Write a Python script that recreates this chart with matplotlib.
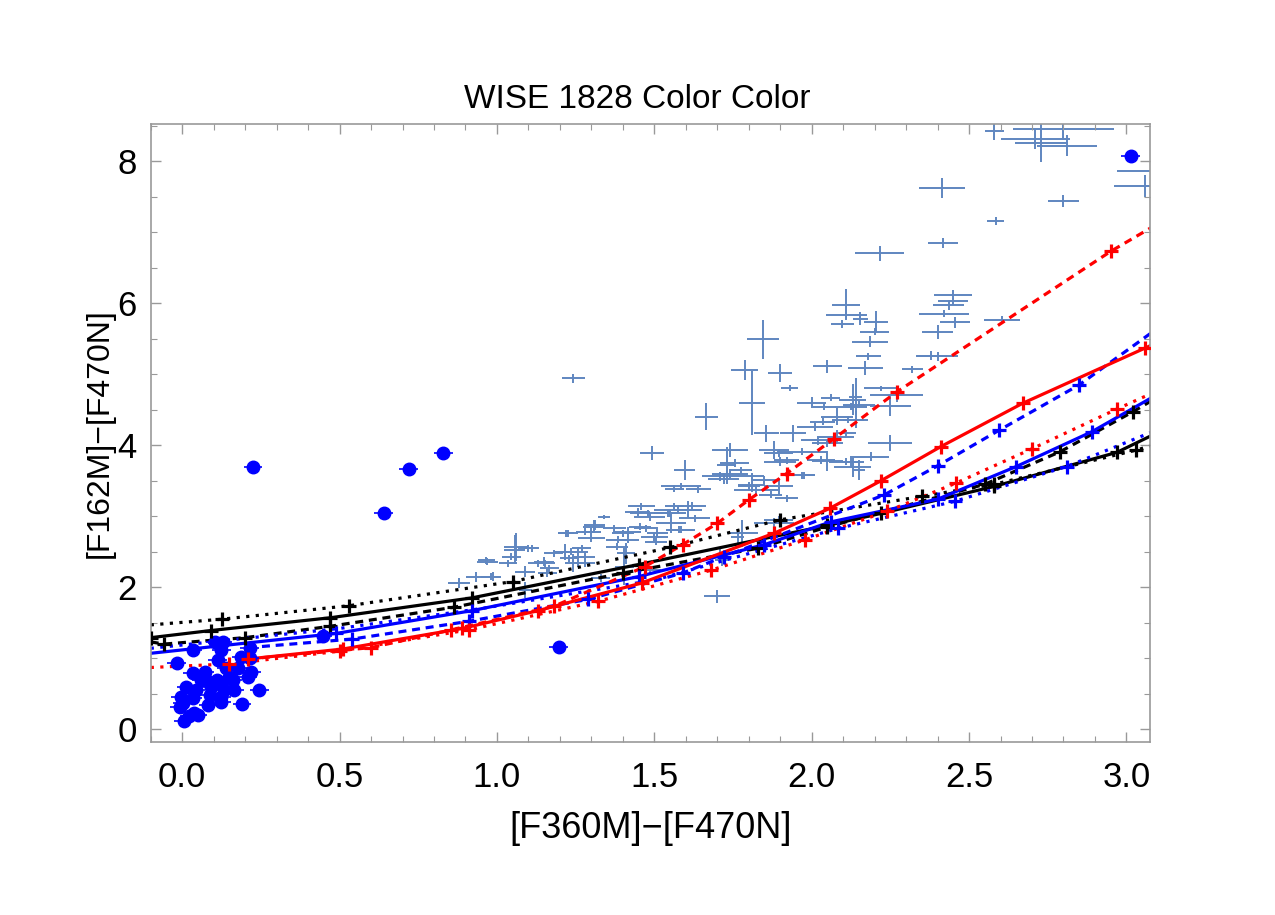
import numpy as np
import matplotlib.pyplot as plt
from matplotlib.ticker import MultipleLocator

plt.rcParams['font.family'] = ['Liberation Sans', 'DejaVu Sans']

# ---- observed objects: light blue crosses (x, y, xerr, yerr) ----
obs = np.array([
    (2.58, 8.42, 0.03, 0.12), (2.80, 8.45, 0.16, 0.15), (2.71, 8.31, 0.11, 0.14),
    (2.81, 8.22, 0.095, 0.15), (2.73, 8.26, 0.085, 0.27), (3.08, 7.86, 0.11, 0.30),
    (3.06, 7.65, 0.10, 0.16), (2.80, 7.44, 0.05, 0.08), (2.585, 7.16, 0.027, 0.06),
    (2.415, 7.62, 0.073, 0.145), (2.417, 6.85, 0.047, 0.075), (2.216, 6.70, 0.077, 0.11),
    (2.11, 5.98, 0.045, 0.22), (2.11, 5.84, 0.065, 0.06), (2.155, 5.78, 0.023, 0.09),
    (2.097, 5.71, 0.036, 0.06), (2.203, 5.74, 0.038, 0.15), (2.45, 6.12, 0.06, 0.06),
    (2.45, 6.03, 0.048, 0.05), (2.435, 5.97, 0.048, 0.07), (2.42, 5.85, 0.08, 0.05),
    (2.455, 5.73, 0.048, 0.08), (2.40, 5.60, 0.05, 0.10), (2.605, 5.77, 0.057, 0.05),
    (2.20, 5.60, 0.045, 0.05), (2.185, 5.46, 0.057, 0.08), (1.845, 5.49, 0.05, 0.275),
    (1.787, 5.06, 0.042, 0.136), (1.90, 5.02, 0.039, 0.125), (1.93, 4.81, 0.028, 0.04),
    (2.05, 5.11, 0.046, 0.09), (2.17, 5.09, 0.055, 0.10), (2.32, 5.07, 0.034, 0.05),
    (2.38, 5.26, 0.05, 0.06), (1.243, 4.94, 0.036, 0.07), (1.665, 4.40, 0.037, 0.19),
    (1.81, 4.59, 0.042, 0.45), (1.494, 3.89, 0.038, 0.105), (2.25, 4.03, 0.07, 0.11),
    (2.25, 4.55, 0.066, 0.14), (2.27, 4.71, 0.085, 0.10), (2.22, 4.80, 0.053, 0.04),
    (2.13, 4.64, 0.042, 0.22), (2.125, 4.54, 0.05, 0.05), (2.00, 4.60, 0.046, 0.08),
    (2.06, 4.67, 0.03, 0.05), (2.04, 4.54, 0.037, 0.05), (2.08, 4.40, 0.05, 0.12),
    (2.14, 4.36, 0.04, 0.12), (2.035, 4.33, 0.04, 0.05), (2.01, 4.26, 0.058, 0.06),
    (2.08, 4.12, 0.056, 0.10), (2.11, 4.17, 0.03, 0.05), (1.94, 4.17, 0.042, 0.12),
    (1.856, 4.17, 0.04, 0.12), (1.88, 3.93, 0.048, 0.13), (1.97, 3.91, 0.08, 0.05),
    (2.02, 4.07, 0.055, 0.06), (1.90, 3.77, 0.05, 0.06), (2.05, 3.78, 0.05, 0.14),
    (2.19, 3.84, 0.056, 0.06), (2.13, 3.70, 0.058, 0.15), (1.596, 3.65, 0.032, 0.14),
    (1.564, 3.39, 0.03, 0.05), (1.64, 3.38, 0.04, 0.05), (1.71, 3.56, 0.058, 0.06),
    (1.73, 3.72, 0.03, 0.26), (1.755, 3.75, 0.045, 0.05), (1.776, 3.65, 0.035, 0.05),
    (1.824, 3.37, 0.07, 0.05), (1.74, 3.93, 0.057, 0.10), (1.74, 3.60, 0.058, 0.06),
    (1.72, 3.53, 0.05, 0.08), (1.895, 3.89, 0.045, 0.06), (1.92, 3.79, 0.04, 0.05),
    (2.05, 4.03, 0.05, 0.05), (2.11, 3.77, 0.056, 0.05), (2.15, 3.65, 0.02, 0.14),
    (2.03, 3.79, 0.045, 0.06), (1.977, 3.58, 0.035, 0.05), (1.895, 3.42, 0.045, 0.12),
    (1.92, 3.25, 0.035, 0.05), (1.80, 3.42, 0.035, 0.06), (1.575, 3.09, 0.077, 0.06),
    (1.62, 3.14, 0.045, 0.06), (1.55, 3.04, 0.05, 0.05), (1.485, 2.99, 0.05, 0.06),
    (1.447, 3.06, 0.04, 0.05), (1.58, 2.81, 0.043, 0.05), (1.78, 2.76, 0.05, 0.19),
    (1.895, 2.95, 0.045, 0.06), (1.307, 2.85, 0.035, 0.09), (1.34, 2.99, 0.02, 0.03),
    (1.28, 2.78, 0.03, 0.05), (1.22, 2.76, 0.025, 0.05), (1.18, 2.48, 0.03, 0.05),
    (1.236, 2.50, 0.053, 0.05), (1.28, 2.43, 0.03, 0.05), (1.243, 2.34, 0.028, 0.13),
    (1.40, 2.76, 0.035, 0.05), (1.416, 2.67, 0.035, 0.05), (1.382, 2.57, 0.035, 0.05),
    (1.454, 2.85, 0.035, 0.05), (1.51, 2.76, 0.033, 0.06), (1.505, 2.64, 0.035, 0.05),
    (1.41, 2.48, 0.03, 0.15), (1.70, 1.87, 0.041, 0.094), (1.153, 2.34, 0.03, 0.05),
    (1.16, 2.20, 0.03, 0.05), (1.714, 2.38, 0.02, 0.08), (1.81, 3.56, 0.04, 0.05),
    (1.85, 3.51, 0.04, 0.05), (1.97, 3.58, 0.04, 0.05), (1.81, 3.44, 0.043, 0.10),
    (1.87, 3.30, 0.037, 0.05), (1.585, 3.42, 0.064, 0.05), (1.458, 3.14, 0.043, 0.05),
    (1.48, 3.04, 0.058, 0.05), (1.543, 3.04, 0.037, 0.05), (1.564, 3.14, 0.03, 0.05),
    (1.607, 3.09, 0.043, 0.12), (1.628, 2.97, 0.048, 0.05), (1.554, 2.90, 0.048, 0.13),
    (1.585, 2.81, 0.043, 0.05), (1.474, 2.83, 0.037, 0.05), (1.50, 2.71, 0.043, 0.06),
    (1.415, 2.78, 0.043, 0.07), (1.373, 2.83, 0.037, 0.05), (1.384, 2.67, 0.037, 0.05),
    (1.31, 2.88, 0.032, 0.07), (1.30, 2.78, 0.03, 0.05), (1.30, 2.69, 0.043, 0.05),
    (1.225, 2.76, 0.032, 0.05), (1.215, 2.50, 0.037, 0.11), (1.23, 2.41, 0.03, 0.05),
    (1.257, 2.43, 0.02, 0.14), (1.27, 2.55, 0.03, 0.05), (1.28, 2.34, 0.03, 0.05),
    (1.15, 2.36, 0.032, 0.06), (1.167, 2.27, 0.03, 0.05), (1.056, 2.53, 0.032, 0.20),
    (1.045, 2.43, 0.03, 0.05), (1.11, 2.55, 0.024, 0.05), (1.088, 2.22, 0.032, 0.08),
    (0.966, 2.38, 0.027, 0.05), (0.987, 2.15, 0.024, 0.06), (1.33, 2.13, 0.03, 0.05),
    (1.405, 2.29, 0.03, 0.26), (1.485, 2.24, 0.037, 0.05), (1.71, 2.46, 0.02, 0.08),
    (1.765, 2.71, 0.02, 0.11), (1.88, 2.90, 0.064, 0.08), (1.061, 2.57, 0.037, 0.20),
    (1.10, 2.55, 0.032, 0.05), (0.97, 2.36, 0.032, 0.05), (0.935, 2.15, 0.032, 0.07),
    (0.98, 2.15, 0.032, 0.05), (0.88, 2.06, 0.035, 0.07), (1.035, 2.34, 0.03, 0.05),
    (1.09, 1.96, 0.02, 0.11), (1.13, 2.34, 0.03, 0.05), (2.40, 5.25, 0.066, 0.06),
    (2.14, 4.68, 0.02, 0.26), (2.15, 4.57, 0.05, 0.05), (2.115, 4.36, 0.05, 0.05),
    (2.125, 3.77, 0.03, 0.08), (2.18, 5.25, 0.04, 0.05),
])
obs_x, obs_y, obs_xe, obs_ye = obs.T

# ---- blue dots ----
dot_x = [0.225, 0.64, 0.72, 0.83, 1.196, 3.013, 0.447,
         0.034, -0.017, 0.105, 0.129, 0.124, 0.214, 0.187, 0.14, 0.177, 0.214,
         0.208, 0.219, 0.034, 0.071, 0.013, 0.044, 0.034, 0.076, 0.092, 0.087,
         0.124, 0.134, 0.161, 0.166, 0.124, 0.124, 0.245, 0.19, -0.005, -0.008,
         0.082, 0.039, 0.023, 0.005, 0.05, 0.002, 0.15, 0.11, 0.113, 0.06]
dot_y = [3.69, 3.04, 3.66, 3.89, 1.155, 8.08, 1.31,
         1.12, 0.94, 1.23, 1.23, 1.12, 1.14, 1.02, 0.86, 0.86, 1.00,
         0.74, 0.81, 0.79, 0.81, 0.59, 0.55, 0.44, 0.69, 0.60, 0.48,
         0.65, 0.55, 0.69, 0.55, 0.46, 0.39, 0.55, 0.36, 0.46, 0.32,
         0.34, 0.23, 0.18, 0.12, 0.20, 0.37, 0.74, 0.69, 0.98, 0.69]

# ---- model tracks ----
bk_solid_x = [-0.1, 0.09, 0.47, 0.92, 1.45, 2.05, 2.22, 2.58, 2.97, 3.1]
bk_solid_y = [1.29, 1.39, 1.57, 1.85, 2.32, 2.87, 3.04, 3.42, 3.90, 4.18]
bk_dash_x = [-0.1, -0.057, 0.20, 0.47, 0.865, 1.40, 1.83, 2.05, 2.55, 2.79, 3.02, 3.1]
bk_dash_y = [1.23, 1.20, 1.29, 1.45, 1.72, 2.20, 2.55, 2.85, 3.45, 3.91, 4.47, 4.68]
bk_dot_x = [-0.1, 0.126, 0.53, 1.05, 1.55, 1.9, 2.35, 2.58, 3.03, 3.1]
bk_dot_y = [1.47, 1.55, 1.74, 2.08, 2.56, 2.95, 3.28, 3.45, 3.93, 4.02]

bl_solid_x = [-0.1, 0.49, 0.92, 1.45, 1.85, 2.06, 2.40, 2.65, 2.89, 3.1]
bl_solid_y = [1.07, 1.35, 1.67, 2.15, 2.60, 2.92, 3.24, 3.70, 4.19, 4.72]
bl_dash_x = [0.21, 0.54, 0.91, 1.29, 1.59, 1.72, 2.23, 2.40, 2.595, 2.85, 3.1]
bl_dash_y = [1.15, 1.27, 1.52, 1.83, 2.20, 2.43, 3.30, 3.71, 4.21, 4.85, 5.65]
bl_dot_x = [-0.1, 0.5, 0.95, 1.5, 2.085, 2.455, 2.81, 3.1]
bl_dot_y = [1.14, 1.42, 1.70, 2.10, 2.83, 3.21, 3.70, 4.22]

rd_solid_x = [0.21, 0.51, 0.89, 1.13, 1.46, 1.88, 2.057, 2.22, 2.41, 2.67, 3.06, 3.1]
rd_solid_y = [0.99, 1.13, 1.42, 1.67, 2.06, 2.76, 3.11, 3.50, 3.98, 4.59, 5.37, 5.45]
rd_dash_x = [0.21, 0.60, 0.855, 1.18, 1.47, 1.59, 1.70, 1.80, 1.92, 2.07, 2.27, 2.95, 3.1]
rd_dash_y = [0.99, 1.15, 1.40, 1.73, 2.29, 2.60, 2.90, 3.23, 3.60, 4.09, 4.75, 6.73, 7.12]
rd_dot_x = [-0.1, 0.15, 0.5, 0.91, 1.32, 1.68, 1.98, 2.24, 2.46, 2.70, 2.97, 3.1]
rd_dot_y = [0.87, 0.92, 1.10, 1.40, 1.80, 2.24, 2.67, 3.07, 3.47, 3.95, 4.51, 4.77]

dashed = (0, (2.5, 1.8))
dotted = (0, (1, 2))
tracks = [
    (bk_solid_x, bk_solid_y, 'black', '-', slice(0, -1)),
    (bk_dash_x, bk_dash_y, 'black', dashed, slice(1, -1)),
    (bk_dot_x, bk_dot_y, 'black', dotted, slice(1, -1)),
    (bl_solid_x, bl_solid_y, 'blue', '-', slice(1, -1)),
    (bl_dash_x, bl_dash_y, 'blue', dashed, slice(1, -1)),
    (bl_dot_x, bl_dot_y, 'blue', dotted, slice(4, -1)),
    (rd_solid_x, rd_solid_y, 'red', '-', slice(0, -1)),
    (rd_dash_x, rd_dash_y, 'red', dashed, slice(1, -1)),
    (rd_dot_x, rd_dot_y, 'red', dotted, slice(1, -1)),
]

fig = plt.figure(figsize=(12.75, 9.15), dpi=100)
ax = fig.add_axes([0.1182, 0.1894, 0.7838, 0.6748])

ax.errorbar(obs_x, obs_y, xerr=obs_xe, yerr=obs_ye, fmt='none',
            ecolor='#5F86C0', elinewidth=1.4, capsize=0, zorder=1)

for x, y, c, ls, me in tracks:
    ax.plot(x, y, color=c, linestyle=ls, linewidth=2.3, zorder=2)

ax.errorbar(dot_x, dot_y, xerr=0.03, yerr=0.02, fmt='o', color='blue',
            ecolor='blue', elinewidth=1.2, markersize=9, capsize=0, zorder=3)

for x, y, c, ls, me in tracks:
    ax.plot(np.array(x)[me], np.array(y)[me], linestyle='none', marker='+',
            color=c, markersize=9.5, markeredgewidth=2.3, zorder=4)

ax.set_xlim(-0.1, 3.075)
ax.set_ylim(-0.175, 8.52)
ax.xaxis.set_major_locator(MultipleLocator(0.5))
ax.xaxis.set_minor_locator(MultipleLocator(0.1))
ax.yaxis.set_major_locator(MultipleLocator(2))
ax.yaxis.set_minor_locator(MultipleLocator(0.5))
ax.xaxis.set_major_formatter(plt.FuncFormatter(lambda v, p: f'{v:.1f}'))
ax.tick_params(which='both', direction='in', top=True, right=True,
               color='#999999', labelsize=25)
ax.tick_params(which='major', length=7, width=1)
ax.tick_params(which='minor', length=4, width=0.8)
ax.tick_params(axis='x', pad=14)
ax.tick_params(axis='y', pad=10)
for s in ax.spines.values():
    s.set_color('#999999')
    s.set_linewidth(1.2)

ax.set_xlabel('[F360M]\u2212[F470N]', fontsize=26, labelpad=12)
ax.set_ylabel('[F162M]\u2212[F470N]', fontsize=23, labelpad=2)
ax.set_title('WISE 1828 Color Color', fontsize=24, pad=12, x=0.487)

plt.savefig('out.png', dpi=100)
